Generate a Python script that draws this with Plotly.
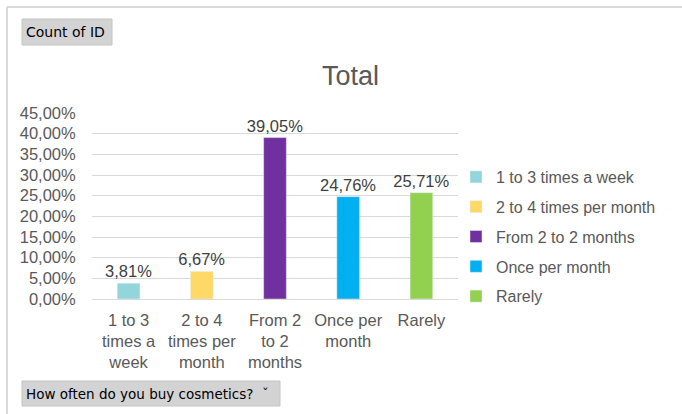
import plotly.graph_objects as go

# Purchase frequency shares (fraction of respondents)
categories = ["1 to 3 times a week", "2 to 4 times per month", "From 2 to 2 months",
              "Once per month", "Rarely"]
tick_labels = ["1 to 3<br>times a<br>week", "2 to 4<br>times per<br>month",
               "From 2<br>to 2<br>months", "Once per<br>month", "Rarely"]
shares = [0.0381, 0.0667, 0.3905, 0.2476, 0.2571]
colors = ["#92D6DC", "#FFD966", "#7030A0", "#00B0F0", "#92D050"]

W, H = 682, 414
ML, MR, MT, MB = 92, 224, 113, 115
PW, PH = W - ML - MR, H - MT - MB


def px(x):
    return (x - ML) / PW


def py(y):
    return (H - MB - y) / PH


FS = 16.5
fig = go.Figure()
for i, (cat, lab, val, col) in enumerate(zip(categories, tick_labels, shares, colors)):
    fig.add_trace(go.Bar(
        x=[lab], y=[val], name=cat, marker_color=col, width=0.31,
        legendgroup=f"g{i}",
        texttemplate="%{y:.2%}", textposition="outside", textangle=0,
        constraintext="none",
        textfont=dict(size=FS, color="#404040"), cliponaxis=False,
    ))

FONT = "Liberation Sans, Arial, sans-serif"
fig.update_layout(
    width=W, height=H, margin=dict(l=ML, r=MR, t=MT, b=MB),
    paper_bgcolor="white", plot_bgcolor="white",
    separators=",.", barmode="overlay",
    font=dict(family=FONT, size=FS, color="#595959"),
    showlegend=True,
    legend=dict(x=px(456), y=py(160), xanchor="left", yanchor="top",
                font=dict(size=16, color="#595959"), tracegroupgap=6,
                itemwidth=30, bgcolor="rgba(0,0,0,0)"),
    xaxis=dict(type="category", categoryorder="array", categoryarray=tick_labels,
               showgrid=False, showline=False, zeroline=False,
               tickfont=dict(size=FS, color="#595959"), ticks="",
               ticklabelstandoff=9),
    yaxis=dict(range=[0, 0.45], dtick=0.05, tickformat=".2%",
               showgrid=True, gridcolor="#D9D9D9", gridwidth=1,
               zeroline=True, zerolinecolor="#D9D9D9", zerolinewidth=1,
               tickfont=dict(size=FS, color="#595959"), ticks="outside",
               ticklen=12, tickcolor="rgba(0,0,0,0)"),
)

# Title
fig.add_annotation(text="Total", xref="paper", yref="paper", x=px(350), y=py(76),
                   showarrow=False, font=dict(size=27, color="#595959", family=FONT),
                   xanchor="center", yanchor="middle")

# Outer frame (top and left edges)
fig.add_shape(type="line", xref="paper", yref="paper", x0=px(7), x1=px(682),
              y0=py(7), y1=py(7), line=dict(color="#D9D9D9", width=2))
fig.add_shape(type="line", xref="paper", yref="paper", x0=px(7), x1=px(7),
              y0=py(7), y1=py(414), line=dict(color="#D9D9D9", width=2))

# Pivot field buttons
BTN_FONT = "DejaVu Sans, Tahoma, sans-serif"
for (x0, y0, x1, y1, label, fs) in [(22, 19, 112, 45, "Count of ID", 14),
                                    (22, 381, 280, 406, "How often do you buy cosmetics?  \u02c7", 13.5)]:
    fig.add_shape(type="rect", xref="paper", yref="paper",
                  x0=px(x0), x1=px(x1), y0=py(y0), y1=py(y1),
                  fillcolor="#D3D3D3", line=dict(color="#C4C4C4", width=1), layer="below")
    fig.add_annotation(text=label, xref="paper", yref="paper",
                       x=px(x0 + 2), y=py((y0 + y1) / 2), xanchor="left", yanchor="middle",
                       showarrow=False, font=dict(size=fs, color="#000000", family=BTN_FONT))

fig.write_html("out.html")
